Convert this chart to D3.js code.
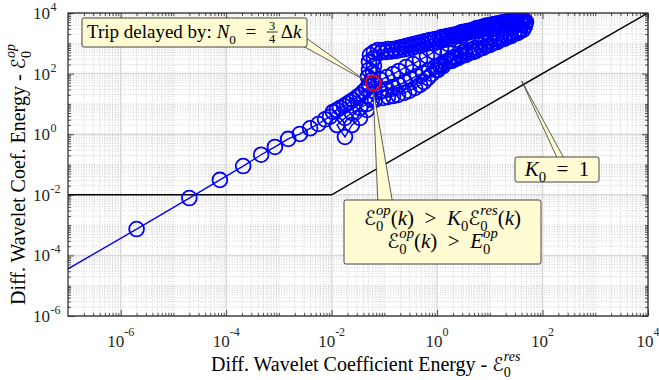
<!DOCTYPE html>
<html><head><meta charset="utf-8">
<script src="https://cdn.jsdelivr.net/npm/d3@7/dist/d3.min.js"></script>
<style>
html,body{margin:0;padding:0;background:#fff;}
svg{display:block;}
text{font-family:"Liberation Serif","Times New Roman",serif;}
</style></head>
<body><svg id="chart" width="659" height="380"></svg>
<script>
// ---------------- data ----------------
const xTickExps = [-6, -4, -2, 0, 2, 4];
const yTickExps = [-6, -4, -2, 0, 2, 4];
// threshold line K0 = 1 with floor E0op
const thresholdRes = [1e-7, 1e-2, 1e4];
const thresholdOp  = [1e-2, 1e-2, 1e4];
// trip point
const tripRes = [6.1e-2];
const tripOp  = [49];
// trajectory segments (E_res, E_op)
const diagRes = [1e-8, 2.0e-6, 2.0e-5, 7.6e-5, 2.1e-4, 4.6e-4, 8.4e-4, 1.5e-3, 2.5e-3, 3.9e-3, 5.6e-3, 7.5e-3, 9.3e-3];
const diagOp  = [3.5e-6, 7.4e-4, 7.8e-3, 3.1e-2, 8.9e-2, 0.21, 0.38, 0.70, 1.02, 1.57, 2.17, 3.10, 3.78];
const rampRes = [1.06e-2, 1.26e-2, 1.44e-2, 1.71e-2, 1.95e-2, 2.23e-2, 2.54e-2, 3.03e-2, 3.45e-2, 3.94e-2, 4.49e-2, 5.11e-2];
const rampOp  = [5.41, 6.30, 7.32, 8.53, 9.93, 11.6, 13.5, 16.9, 19.7, 24.7, 31.0, 39.0];
const jumpRes = [5.11e-2, 5.82e-2, 4.89e-2, 6.09e-2, 5.11e-2, 6.35e-2, 5.11e-2, 6.35e-2, 5.33e-2, 6.35e-2];
const jumpOp  = [45.4, 61.5, 77.3, 105, 132, 178, 242, 327, 411, 516];
const upperRes = [7.57e-2, 9.42e-2, 0.117, 0.146, 0.181, 0.216, 0.257, 0.306, 0.365, 0.435, 0.518, 0.615, 0.733, 0.912, 1.13, 1.41, 1.76, 2.18, 2.72, 3.38, 4.21, 5.24, 6.50, 8.09, 10.1, 12.5, 15.6, 19.4, 24.2, 30.0, 37.3, 44.5, 46.5, 46.5];
const upperOp  = [601, 601, 649, 649, 700, 755, 815, 879, 948, 1020, 1100, 1190, 1290, 1390, 1500, 1610, 1740, 1880, 2190, 2360, 2550, 2960, 3200, 3720, 4020, 4340, 4680, 5050, 5450, 5450, 5870, 5870, 4680, 3720];
const returnRes = [37.3, 30.0, 24.2, 19.4, 15.6, 12.5, 10.1, 8.09, 6.50, 5.24, 4.21, 3.38, 2.72, 2.18, 1.76, 1.41, 1.13, 0.953, 0.800, 0.671, 0.565, 0.474, 0.381, 0.293, 0.236, 0.181, 0.146, 0.117, 9.42e-2];
const returnOp  = [2960, 2550, 2190, 1880, 1610, 1390, 1190, 1020, 879, 700, 601, 516, 411, 353, 281, 224, 178, 132, 97.0, 71.6, 52.8, 42.1, 33.5, 26.7, 22.9, 19.7, 18.2, 16.9, 15.7];
const dipRes = [6.64e-2, 4.69e-2, 3.45e-2, 2.43e-2, 1.79e-2, 1.26e-2, 1.79e-2, 2.43e-2, 3.45e-2, 4.69e-2, 5.82e-2];
const dipOp  = [13.5, 9.93, 7.32, 5.01, 3.43, 2.01, 0.81, 2.01, 3.43, 6.30, 13.5];
const midRes = [6.64e-2, 8.63e-2, 0.112, 0.146, 0.189, 0.246, 0.320, 0.416, 0.541, 0.702, 0.912, 1.19, 1.61, 2.18, 2.96, 4.03, 5.47, 7.41, 10.1, 13.7, 18.6, 25.2, 34.2, 42.6];
const midOp  = [24.7, 26.7, 31.0, 36.1, 42.1, 52.8, 66.4, 83.4, 105, 132, 165, 207, 261, 303, 381, 479, 557, 700, 879, 1100, 1390, 1740, 2190, 2750];
const backRes = [40.7, 30.0, 19.4, 12.5, 8.09, 5.71, 4.21, 2.96, 2.18, 1.61, 1.19, 0.873, 0.643, 0.474, 0.349, 0.257, 0.189, 0.146, 0.112, 8.63e-2, 6.64e-2];
const backOp  = [4020, 5050, 4340, 3720, 3200, 2750, 2360, 1740, 1290, 948, 700, 516, 381, 281, 207, 165, 122, 97.0, 77.3, 61.5, 49.0];
const upper2Res = [8.63e-2, 0.107, 0.134, 0.166, 0.198, 0.236, 0.281, 0.334, 0.398, 0.474, 0.565, 0.671, 0.800, 0.995, 1.24, 1.54, 1.92, 2.38, 2.96, 3.69, 4.59, 5.71, 7.11, 8.83, 11.0, 13.7, 17.0, 21.2, 26.4, 32.7, 39.0];
const upper2Op  = [497, 516, 536, 557, 601, 624, 674, 727, 784, 846, 913, 985, 1062, 1146, 1237, 1335, 1440, 1740, 2030, 2190, 2450, 2750, 2960, 3080, 3320, 3580, 3870, 4170, 4500, 4680, 4860];
const upper3Res = [48.5, 40.7, 32.7, 26.4, 21.2, 17.0, 13.7, 11.0, 8.83, 7.11, 5.71, 4.59, 3.69, 2.96, 2.38, 1.92, 1.54, 1.24];
const upper3Op  = [5050, 5870, 5870, 5660, 5240, 4860, 4500, 4170, 3870, 3450, 3200, 2750, 2550, 2360, 2030, 1880, 1740, 1610];
const lower2Res = [1.04, 1.29, 1.92, 2.49, 3.53, 4.80, 6.24, 8.46, 11.5, 15.6, 21.2, 28.7, 37.3];
const lower2Op  = [132, 178, 261, 327, 411, 516, 649, 815, 1020, 1290, 1610, 2030, 2550];

// ---------------- chart ----------------
const svg = d3.select('#chart');
const L = 68, R = 648, T = 13, B = 316;
const AX = '#262626';
const x = d3.scaleLog().domain([1e-7, 1e4]).range([L, R]);
const y = d3.scaleLog().domain([1e-6, 1e4]).range([B, T]);

const majX = xTickExps.map(e => Math.pow(10, e));
const majY = yTickExps.map(e => Math.pow(10, e));
function minorVals(scale, majors) {
  const [a, b] = scale.domain();
  const ea = Math.round(Math.log10(a)), eb = Math.round(Math.log10(b));
  const out = [];
  for (let e = ea; e < eb; e++) {
    for (let m = 1; m < 10; m++) {
      const v = m * Math.pow(10, e);
      if (m === 1 && (e === ea || majors.some(u => Math.abs(Math.log10(u) - e) < 1e-9))) continue;
      out.push(v);
    }
  }
  return out;
}
const minX = minorVals(x, majX), minY = minorVals(y, majY);

svg.append('defs').append('clipPath').attr('id', 'clip')
  .append('rect').attr('x', L).attr('y', T).attr('width', R - L).attr('height', B - T);

// grid
const grid = svg.append('g');
grid.selectAll('.mgx').data(minX).join('line')
  .attr('x1', d => x(d)).attr('x2', d => x(d)).attr('y1', T).attr('y2', B)
  .attr('stroke', '#bdbdbd').attr('stroke-width', 0.7).attr('stroke-dasharray', '1 1.6');
grid.selectAll('.mgy').data(minY).join('line')
  .attr('y1', d => y(d)).attr('y2', d => y(d)).attr('x1', L).attr('x2', R)
  .attr('stroke', '#bdbdbd').attr('stroke-width', 0.7).attr('stroke-dasharray', '1 1.6');
grid.selectAll('.Mgx').data(majX).join('line')
  .attr('x1', d => x(d)).attr('x2', d => x(d)).attr('y1', T).attr('y2', B)
  .attr('stroke', '#d9d9d9').attr('stroke-width', 1.5);
grid.selectAll('.Mgy').data(majY).join('line')
  .attr('y1', d => y(d)).attr('y2', d => y(d)).attr('x1', L).attr('x2', R)
  .attr('stroke', '#d9d9d9').attr('stroke-width', 1.5);

// data
const plot = svg.append('g').attr('clip-path', 'url(#clip)');
const thr = thresholdRes.map((v, i) => [v, thresholdOp[i]]);
plot.append('path').datum(thr)
  .attr('d', d3.line().x(d => x(d[0])).y(d => y(d[1])))
  .attr('fill', 'none').attr('stroke', '#000').attr('stroke-width', 1.5);

const segs = [[diagRes, diagOp], [rampRes, rampOp], [jumpRes, jumpOp], [upperRes, upperOp],
              [returnRes, returnOp], [dipRes, dipOp], [midRes, midOp], [backRes, backOp],
              [upper2Res, upper2Op], [upper3Res, upper3Op], [lower2Res, lower2Op]];
const traj = [];
segs.forEach(([rs, os]) => rs.forEach((v, i) => traj.push([v, os[i]])));
plot.append('path').datum(traj)
  .attr('d', d3.line().x(d => x(d[0])).y(d => y(d[1])))
  .attr('fill', 'none').attr('stroke', '#0000ff').attr('stroke-width', 1.4);
plot.selectAll('.mk').data(traj).join('circle')
  .attr('cx', d => x(d[0])).attr('cy', d => y(d[1])).attr('r', 7.4)
  .attr('fill', 'none').attr('stroke', '#0000ff').attr('stroke-width', 1.8);
plot.selectAll('.trip').data(tripRes.map((v, i) => [v, tripOp[i]])).join('circle')
  .attr('cx', d => x(d[0])).attr('cy', d => y(d[1])).attr('r', 7.4)
  .attr('fill', 'none').attr('stroke', '#ff0000').attr('stroke-width', 1.8);

// axes (ticks inward on all sides)
function ax(gen, tx, ty, vals, len) {
  const g = svg.append('g').attr('transform', `translate(${tx},${ty})`)
    .call(gen.tickValues(vals).tickSizeInner(-len).tickSizeOuter(0).tickFormat(''));
  g.select('.domain').remove();
  g.selectAll('line').attr('stroke', AX).attr('stroke-width', 0.8);
}
ax(d3.axisBottom(x), 0, B, majX, 6); ax(d3.axisBottom(x), 0, B, minX, 3);
ax(d3.axisTop(x), 0, T, majX, 6);    ax(d3.axisTop(x), 0, T, minX, 3);
ax(d3.axisLeft(y), L, 0, majY, 6);   ax(d3.axisLeft(y), L, 0, minY, 3);
ax(d3.axisRight(y), R, 0, majY, 6);  ax(d3.axisRight(y), R, 0, minY, 3);
svg.append('rect').attr('x', L).attr('y', T).attr('width', R - L).attr('height', B - T)
  .attr('fill', 'none').attr('stroke', AX).attr('stroke-width', 1.2);

// tick labels
xTickExps.forEach(e => {
  const t = svg.append('text').attr('x', x(Math.pow(10, e))).attr('y', 347)
    .attr('text-anchor', 'middle').attr('font-size', 17).attr('fill', AX);
  t.append('tspan').text('10');
  t.append('tspan').attr('dy', -11).attr('font-size', 12).text(String(e));
});
yTickExps.forEach(e => {
  const yy = y(Math.pow(10, e));
  svg.append('text').attr('x', 50).attr('y', yy + 6).attr('text-anchor', 'end')
    .attr('font-size', 17).attr('fill', AX).text('10');
  svg.append('text').attr('x', 50.5).attr('y', yy - 2).attr('text-anchor', 'start')
    .attr('font-size', 12).attr('fill', AX).text(String(e));
});

// rich text helper
function rich(t, parts, fs) {
  let cur = 0;
  parts.forEach(s => {
    const ts = t.append('tspan').text(s.t);
    let off = 0, size = fs;
    if (s.p === 'sub') { off = 0.3 * fs; size = 0.7 * fs; }
    if (s.p === 'sup') { off = -0.5 * fs; size = 0.7 * fs; }
    ts.attr('dy', off - cur).attr('font-size', size);
    cur = off;
    if (s.back) ts.attr('dx', -s.back * fs);
    if (s.i) ts.attr('font-style', 'italic');
    if (s.cal) ts.attr('font-family', '"DejaVu Serif","DejaVu Sans",serif').attr('font-size', size * 0.95);
  });
}
const E = sup => [{ t: 'ℰ', cal: 1 }, { t: '0', p: 'sub' }, { t: sup, p: 'sup', i: 1, back: 0.35 }];
const GT = '\u2002>\u2002', EQ = '\u2002=\u2002';

// axis labels
rich(svg.append('text').attr('x', 211).attr('y', 371).attr('fill', '#000'),
  [{ t: 'Diff. Wavelet Coefficient Energy - ' }, ...E('res')], 20);
rich(svg.append('text').attr('transform', 'translate(25,305) rotate(-90)').attr('fill', '#000'),
  [{ t: 'Diff. Wavelet Coef. Energy - ' }, ...E('op')], 20);

// annotations
const FILL = '#fffcd4', EDGE = '#333333';
const ann = svg.append('g');
function wedge(pts) {
  ann.append('polygon').attr('points', pts.map(p => p.join(',')).join(' '))
    .attr('fill', FILL).attr('stroke', EDGE).attr('stroke-width', 0.8);
}
function box(x0, y0, w, h) {
  ann.append('rect').attr('x', x0).attr('y', y0).attr('width', w).attr('height', h).attr('rx', 2)
    .attr('fill', FILL).attr('stroke', EDGE).attr('stroke-width', 0.9);
}
// box 1: trip delay
wedge([[300, 33.6], [297, 42.6], [366, 81]]);
box(82, 18, 225, 29);
const t1 = ann.append('text').attr('x', 87).attr('y', 38).attr('fill', '#000');
rich(t1, [{ t: 'Trip delayed by: ' }, { t: 'N', i: 1 }, { t: '0', p: 'sub' }, { t: EQ }], 19);
const fx = 87 + t1.node().getComputedTextLength() + 1;
ann.append('text').attr('x', fx + 5.5).attr('y', 29.5).attr('text-anchor', 'middle').attr('font-size', 12.5).text('3');
ann.append('line').attr('x1', fx).attr('x2', fx + 11).attr('y1', 32).attr('y2', 32).attr('stroke', '#000').attr('stroke-width', 0.8);
ann.append('text').attr('x', fx + 5.5).attr('y', 42.5).attr('text-anchor', 'middle').attr('font-size', 12.5).text('4');
rich(ann.append('text').attr('x', fx + 14).attr('y', 38).attr('fill', '#000'),
  [{ t: 'Δ' }, { t: 'k', i: 1 }], 19);

// box 2: K0 = 1
wedge([[521.7, 81], [560.4, 165], [567.7, 165]]);
box(515, 157, 84, 25);
rich(ann.append('text').attr('x', 557).attr('y', 175.5).attr('text-anchor', 'middle').attr('fill', '#000'),
  [{ t: 'K', i: 1 }, { t: '0', p: 'sub' }, { t: EQ + '1' }], 21);

// box 3: trip conditions
wedge([[373, 88], [378, 205], [393, 205]]);
box(344, 200, 197, 64);
rich(ann.append('text').attr('x', 442.5).attr('y', 225).attr('text-anchor', 'middle').attr('fill', '#000'),
  [...E('op'), { t: '(' }, { t: 'k', i: 1 }, { t: ')' + GT }, { t: 'K', i: 1 }, { t: '0', p: 'sub' }, ...E('res'), { t: '(' }, { t: 'k', i: 1 }, { t: ')' }], 21);
rich(ann.append('text').attr('x', 442.5).attr('y', 248).attr('text-anchor', 'middle').attr('fill', '#000'),
  [...E('op'), { t: '(' }, { t: 'k', i: 1 }, { t: ')' + GT }, { t: 'E', i: 1 }, { t: '0', p: 'sub' }, { t: 'op', p: 'sup', i: 1, back: 0.35 }], 21);
</script>
</body></html>
